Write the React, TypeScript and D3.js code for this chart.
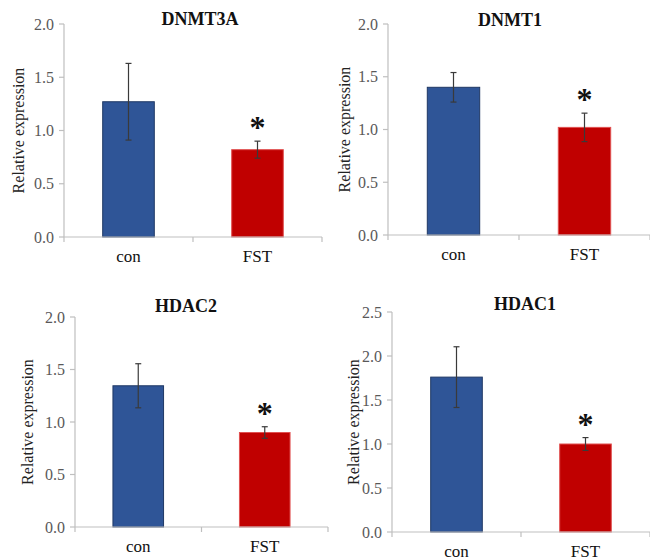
import React from 'react';
import * as d3 from 'd3';

// values
const genes = ['DNMT3A', 'DNMT1', 'HDAC2', 'HDAC1'];
const groups = ['con', 'FST'];
const conValues = [1.27, 1.40, 1.345, 1.76];
const conErrors = [0.36, 0.14, 0.21, 0.345];
const fstValues = [0.82, 1.02, 0.90, 1.00];
const fstErrors = [0.08, 0.135, 0.055, 0.073];
const yMaxes = [2.0, 2.0, 2.0, 2.5];
const significant = [true, true, true, true];

// panel frames in page pixels
const frames = [
  { left: 64, right: 322, top: 24, bottom: 237, titleX: 200, titleY: 25, labelX: 18 },
  { left: 388, right: 650, top: 24, bottom: 235, titleX: 510, titleY: 26, labelX: 344 },
  { left: 75, right: 328, top: 317, bottom: 527, titleX: 186, titleY: 312, labelX: 27 },
  { left: 392, right: 650, top: 312, bottom: 532, titleX: 525, titleY: 310, labelX: 353 },
];

const barColors = { con: '#2F5597', FST: '#C00000' };
const barStrokes = { con: '#1F3864', FST: '#E05050' };
const axisColor = '#BFBFBF';
const font = '"Liberation Serif", "Times New Roman", serif';

const Panel = ({ i }: { i: number }) => {
  const f = frames[i];
  const x = d3.scaleBand().domain(groups).range([f.left, f.right]).padding(0);
  const y = d3.scaleLinear().domain([0, yMaxes[i]]).range([f.bottom, f.top]);
  const ticks = d3.range(0, yMaxes[i] + 0.001, 0.5);
  const bw = x.bandwidth() * 0.4;
  const rows = [
    { g: 'con', v: conValues[i], e: conErrors[i] },
    { g: 'FST', v: fstValues[i], e: fstErrors[i] },
  ];
  const edges = [f.left, f.left + x.bandwidth(), f.right];

  return (
    <g>
      <text x={f.titleX} y={f.titleY} textAnchor="middle" fontFamily={font} fontWeight="bold" fontSize={18} fill="#111">
        {genes[i]}
      </text>
      {/* y axis */}
      <line x1={f.left} x2={f.left} y1={f.top} y2={f.bottom} stroke={axisColor} strokeWidth={1.2} />
      {ticks.map(t => (
        <g key={t}>
          <line x1={f.left - 5} x2={f.left} y1={y(t)} y2={y(t)} stroke={axisColor} strokeWidth={1.2} />
          <text x={f.left - 10} y={y(t)} dy="0.35em" textAnchor="end" fontFamily={font} fontSize={16} fill="#595959">
            {d3.format('.1f')(t)}
          </text>
        </g>
      ))}
      <text
        transform={`translate(${f.labelX},${(f.top + f.bottom) / 2}) rotate(-90)`}
        dy="0.35em"
        textAnchor="middle"
        fontFamily={font}
        fontSize={16}
        fill="#222"
      >
        Relative expression
      </text>
      {/* bars */}
      {rows.map(r => {
        const cx = (x(r.g) as number) + x.bandwidth() / 2;
        return (
          <g key={r.g}>
            <rect
              x={cx - bw / 2}
              y={y(r.v)}
              width={bw}
              height={f.bottom - y(r.v)}
              fill={barColors[r.g]}
              stroke={barStrokes[r.g]}
              strokeWidth={1}
            />
            <line x1={cx} x2={cx} y1={y(r.v + r.e)} y2={y(r.v - r.e)} stroke="#3a3a3a" strokeWidth={1.2} />
            <line x1={cx - 3} x2={cx + 3} y1={y(r.v + r.e)} y2={y(r.v + r.e)} stroke="#3a3a3a" strokeWidth={1.2} />
            <line x1={cx - 3} x2={cx + 3} y1={y(r.v - r.e)} y2={y(r.v - r.e)} stroke="#3a3a3a" strokeWidth={1.2} />
            {r.g === 'FST' && significant[i] && (
              <text x={cx} y={y(r.v + r.e) - 3} textAnchor="middle" fontFamily={font} fontWeight="bold" fontSize={32} fill="#111">
                *
              </text>
            )}
            <text x={cx} y={f.bottom + 25} textAnchor="middle" fontFamily={font} fontSize={17} fill="#111">
              {r.g}
            </text>
          </g>
        );
      })}
      {/* x axis */}
      <line x1={f.left} x2={f.right} y1={f.bottom} y2={f.bottom} stroke={axisColor} strokeWidth={1.2} />
      {edges.map((e, k) => (
        <line key={k} x1={e} x2={e} y1={f.bottom} y2={f.bottom + 5} stroke={axisColor} strokeWidth={1.2} />
      ))}
    </g>
  );
};

export default function App() {
  return (
    <div style={{ position: 'absolute', left: 0, top: 0 }}>
      <svg width={650} height={560} style={{ display: 'block', background: '#fff' }}>
        {genes.map((g, i) => (
          <Panel key={g} i={i} />
        ))}
      </svg>
    </div>
  );
}
